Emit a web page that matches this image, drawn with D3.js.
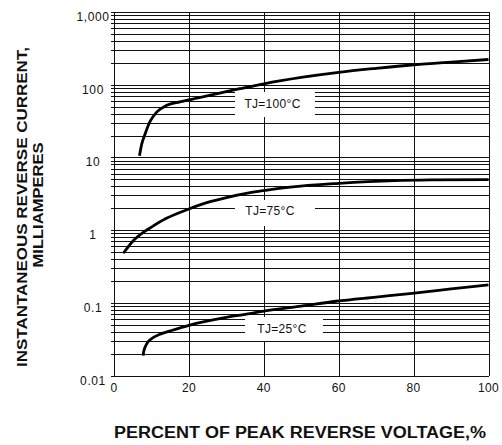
<!DOCTYPE html>
<html>
<head>
<meta charset="utf-8">
<script src="https://cdn.jsdelivr.net/npm/d3@7"></script>
<style>
  html, body { margin: 0; padding: 0; background: #fff; }
  svg { display: block; }
  text { font-family: Arial, "Liberation Sans", sans-serif; fill: #111; }
</style>
</head>
<body>
<svg id="chart" width="502" height="445"></svg>
<script>
// ---- data ----
const xTicks = [0, 20, 40, 60, 80, 100];
const yTicks = [0.01, 0.1, 1, 10, 100, 1000];
const yTickLabels = ["0.01", "0.1", "1", "10", "100", "1,000"];

const seriesNames = ["TJ=100°C", "TJ=75°C", "TJ=25°C"];

const pct100 = [6.8, 7.4, 8.3, 9.6, 11.4, 14.1, 17.6, 20, 26.4, 33.6, 40, 50, 60, 70, 80, 90, 100];
const cur100 = [10.5, 15.2, 21, 31, 42, 52, 58, 62, 73, 88, 103, 126, 148, 168, 188, 205, 222];

const pct75 = [2.5, 5.2, 7.8, 10, 14, 20, 25, 30, 36, 40, 47, 60, 75, 85, 100];
const cur75 = [0.48, 0.72, 0.93, 1.1, 1.45, 1.95, 2.4, 2.8, 3.25, 3.5, 3.9, 4.4, 4.8, 4.9, 4.95];

const pct25 = [7.8, 7.9, 8.7, 10, 12.3, 15, 20, 30, 36.3, 40, 50, 59.3, 70, 79, 90, 100];
const cur25 = [0.0188, 0.021, 0.027, 0.032, 0.037, 0.041, 0.049, 0.063, 0.071, 0.077, 0.090, 0.105, 0.120, 0.134, 0.155, 0.177];

// ---- layout ----
const svg = d3.select("#chart");
const x = d3.scaleLinear().domain([0, 100]).range([114, 488.5]);
const y = d3.scaleLog().domain([0.01, 1000]).range([375.5, 12]);

// minor + major horizontal grid values
const gridVals = [];
for (let e = -2; e < 3; e++) {
  for (let m = 1; m <= 9; m++) gridVals.push(m * Math.pow(10, e));
}
gridVals.push(1000);

const grid = svg.append("g").attr("stroke", "#111").attr("stroke-width", 1).attr("shape-rendering", "crispEdges");

grid.selectAll("line.h").data(gridVals).enter().append("line")
  .attr("class", "h")
  .attr("x1", 111).attr("x2", x(100))
  .attr("y1", d => Math.round(y(d)) + 0.5).attr("y2", d => Math.round(y(d)) + 0.5);

grid.selectAll("line.v").data(xTicks).enter().append("line")
  .attr("class", "v")
  .attr("x1", d => Math.round(x(d)) + 0.5).attr("x2", d => Math.round(x(d)) + 0.5)
  .attr("y1", y(1000)).attr("y2", y(0.01));

// axis line emphasis
grid.append("line").attr("x1", Math.round(x(0)) + 0.5).attr("x2", Math.round(x(0)) + 0.5)
  .attr("y1", y(1000)).attr("y2", y(0.01)).attr("stroke-width", 1.5);
grid.append("line").attr("x1", x(0)).attr("x2", x(100))
  .attr("y1", Math.round(y(0.01)) + 0.5).attr("y2", Math.round(y(0.01)) + 0.5).attr("stroke-width", 1.5);

// curves
const line = d3.line().x(d => x(d[0])).y(d => y(d[1])).curve(d3.curveMonotoneX);
const series = [
  d3.zip(pct100, cur100),
  d3.zip(pct75, cur75),
  d3.zip(pct25, cur25)
];
svg.append("g").selectAll("path").data(series).enter().append("path")
  .attr("d", line)
  .attr("fill", "none")
  .attr("stroke", "#000")
  .attr("stroke-width", 2.8)
  .attr("stroke-linejoin", "round");

// series labels with white boxes
const labelBoxes = [
  { x0: 235, x1: 315, y0: 92, y1: 117, tx: 272.5, ty: 104 },
  { x0: 235, x1: 315, y0: 200, y1: 226, tx: 270, ty: 210.5 },
  { x0: 245, x1: 323, y0: 317, y1: 341, tx: 282, ty: 328.5 }
];
const lg = svg.append("g");
labelBoxes.forEach((b, i) => {
  lg.append("rect").attr("x", b.x0).attr("y", b.y0)
    .attr("width", b.x1 - b.x0).attr("height", b.y1 - b.y0).attr("fill", "#fff");
  lg.append("text").attr("x", b.tx).attr("y", b.ty)
    .attr("text-anchor", "middle").attr("dominant-baseline", "central")
    .attr("font-size", 12).attr("letter-spacing", 0.3)
    .text(seriesNames[i]);
});

// y tick labels
svg.append("g").selectAll("text").data(yTicks).enter().append("text")
  .attr("x", 93).attr("y", d => y(d) + 5)
  .attr("text-anchor", "middle").attr("dominant-baseline", "central")
  .attr("font-size", 12).attr("letter-spacing", 0.6)
  .text((d, i) => yTickLabels[i]);

// x tick labels
svg.append("g").selectAll("text").data(xTicks).enter().append("text")
  .attr("x", d => x(d)).attr("y", 388)
  .attr("text-anchor", "middle").attr("dominant-baseline", "central")
  .attr("font-size", 12).attr("letter-spacing", 0.3)
  .text(d => d);

// axis titles
svg.append("text")
  .attr("x", 300).attr("y", 432)
  .attr("text-anchor", "middle").attr("dominant-baseline", "central")
  .attr("font-size", 16).attr("font-weight", "bold")
  .attr("textLength", 372).attr("lengthAdjust", "spacingAndGlyphs")
  .text("PERCENT OF PEAK REVERSE VOLTAGE,%");

svg.append("text")
  .attr("transform", "translate(21,207) rotate(-90)")
  .attr("text-anchor", "middle").attr("dominant-baseline", "central")
  .attr("font-size", 15).attr("font-weight", "bold")
  .attr("textLength", 320).attr("lengthAdjust", "spacingAndGlyphs")
  .text("INSTANTANEOUS REVERSE CURRENT,");

svg.append("text")
  .attr("transform", "translate(37,205) rotate(-90)")
  .attr("text-anchor", "middle").attr("dominant-baseline", "central")
  .attr("font-size", 15).attr("font-weight", "bold")
  .attr("textLength", 125).attr("lengthAdjust", "spacingAndGlyphs")
  .text("MILLIAMPERES");
</script>
</body>
</html>
